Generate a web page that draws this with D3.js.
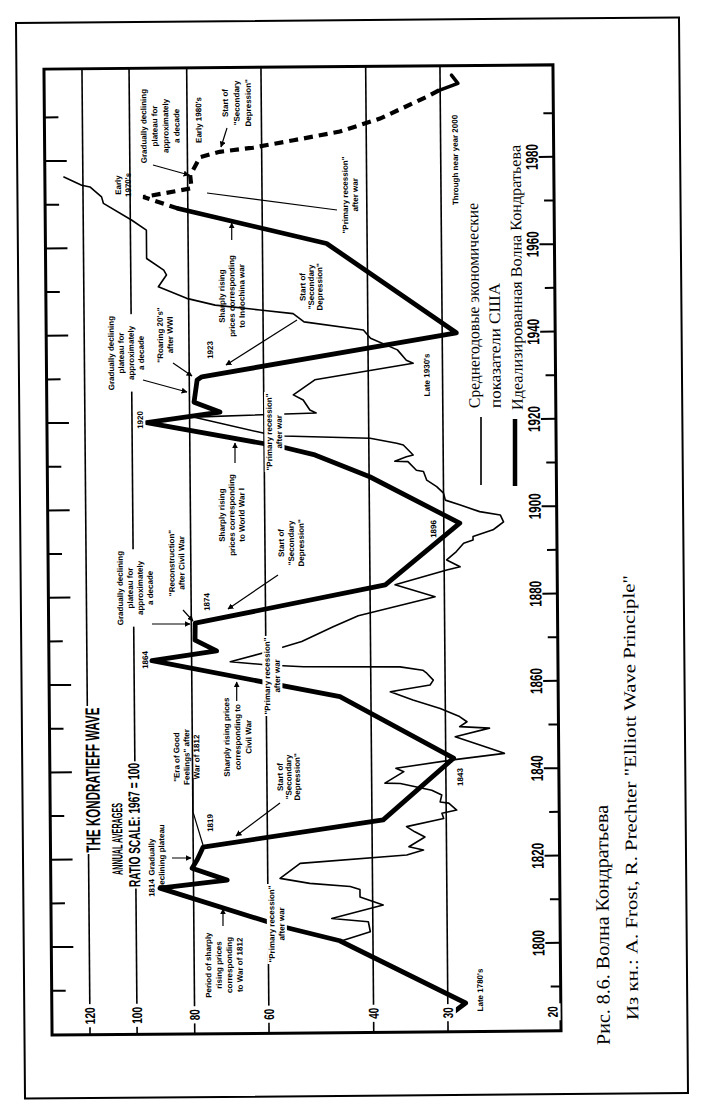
<!DOCTYPE html>
<html><head><meta charset="utf-8">
<script src="https://cdn.jsdelivr.net/npm/d3@7"></script>
<style>body{margin:0;background:#fff}</style></head>
<body><svg id="c" width="708" height="1113"></svg>
<script>
// ---------------- DATA ----------------
const priceTicks = [120, 100, 80, 60, 40, 30, 20];
const gridValues = [120, 100, 80, 60, 40, 30];
const yearLabels = [1800, 1820, 1840, 1860, 1880, 1900, 1920, 1940, 1960, 1980];
const yearTicks = [1790,1800,1810,1820,1830,1840,1850,1860,1870,1880,1890,1900,1910,1920,1930,1940,1950,1960,1970,1980,1990];

// thin line: annual averages (ratio scale, 1967 = 100)
const priceYears = [1800.8,1802.9,1805.2,1806.0,1809.0,1810.9,1812.6,1813.3,1814.1,1815.3,1818.7,1820.4,1821.5,1822.3,1824.5,1825.7,1826.9,1828.7,1829.9,1830.6,1832.2,1832.5,1834.1,1835.2,1836.8,1836.9,1839.5,1840.3,1842.1,1843.5,1844.7,1847.4,1849.3,1849.7,1850.8,1852.0,1853.9,1855.9,1857.8,1858.2,1859.3,1860.4,1862.0,1862.7,1863.5,1863.7,1864.2,1865.0,1867.2,1869.5,1872.8,1875.3,1879.5,1882.3,1885.6,1886.3,1887.9,1889.8,1891.7,1892.4,1893.2,1894.7,1895.4,1896.5,1898.1,1898.9,1900.5,1901.6,1903.2,1904.7,1906.2,1908.2,1908.5,1910.5,1910.6,1911.6,1912.0,1914.3,1914.7,1915.9,1916.6,1917.3,1921.1,1921.8,1922.5,1924.8,1926.0,1929.4,1933.0,1933.7,1936.1,1938.8,1940.7,1942.7,1944.6,1945.5,1946.7,1948.3,1951.0,1953.7,1954.8,1957.5,1964.0,1966.3,1970.2,1971.7,1974.0,1974.4,1976.4];
const priceValues = [45.4,40.4,40.7,46.9,38.4,42.0,42.0,43.6,51.0,57.2,52.9,35.0,32.8,34.7,32.6,33.9,35.0,30.3,30.5,28.8,29.7,30.7,30.5,31.7,35.8,38.0,35.3,36.4,29.2,23.9,25.3,28.9,25.3,28.4,27.6,28.4,30.6,34.0,37.1,35.7,31.8,31.4,32.2,32.7,35.7,51.9,59.6,68.9,59.6,52.2,46.2,41.9,31.1,36.3,29.7,28.2,29.7,28.6,27.8,26.8,26.8,24.8,24.4,23.8,24.1,26.1,28.2,29.8,30.0,30.8,32.0,32.4,33.3,34.4,36.2,34.6,33.7,35.0,35.9,39.8,55.7,60.2,78.9,49.0,50.2,51.5,53.5,49.2,33.6,34.5,35.7,39.6,40.7,51.2,53.4,60.7,72.2,80.6,89.9,87.1,88.0,94.0,94.0,99.4,110.9,111.7,116.8,120.6,129.4];

// thick line: idealized Kondratieff wave
const waveYears = [1784.1,1786.4,1800.9,1804.1,1813.3,1815.0,1817.8,1819.7,1822.6,1828.5,1842.5,1856.8,1865.4,1867.5,1870.0,1873.9,1882.3,1896.3,1907.1,1912.2,1914.2,1919.9,1922.2,1924.5,1929.6,1930.3,1939.9,1960.6,1968.9];
const waveValues = [29.5,28.0,45.5,56.2,91.1,70.2,80.4,78.8,77.0,38.3,29.1,45.1,93.3,72.6,78.9,78.8,37.7,28.2,39.9,49.3,56.4,94.5,71.1,78.6,77.6,76.2,28.4,46.8,83.1];

// dashed: projection (last two points form the solid "V" at the trough)
const projYears = [1968.9,1971.6,1973.5,1976.5,1980.6,1981.8,1982.7,1984.3,1986.2,1989.1,1994.0,1996.0];
const projValues = [83.1,95.0,78.8,79.2,76.2,70.6,62.0,53.0,44.3,37.9,31.6,29.6];
const troughYears = [1995.4,1997.0,1998.9];
const troughValues = [30.2,28.0,28.7];

// ---------------- SETUP ----------------
const svg = d3.select('#c');
svg.append('rect').attr('width',708).attr('height',1113).attr('fill','#fff');
const defs = svg.append('defs');
defs.append('marker').attr('id','ah').attr('viewBox','0 0 10 10').attr('refX',9).attr('refY',5)
  .attr('markerWidth',5).attr('markerHeight',5).attr('orient','auto')
  .append('path').attr('d','M0,0L10,5L0,10z').attr('fill','#000');

const g = svg.append('g').attr('transform','rotate(-0.48,300,550)');
const P = (x,y)=>[x-0.0084*(y-550), y+0.0084*(x-300)];
const SANS = "'Liberation Sans Narrow','Arial Narrow','Liberation Sans',Arial,sans-serif";
const SERIF = "'Liberation Serif','Times New Roman',serif";

const F = {l:48, r:557, t:67, b:1033};
const xv = d3.scaleLog().domain([30,120]).range([444,86]);      // value -> x
const yy = d3.scaleLinear().domain([1800,1980]).range([945,159]); // year -> y

// outer frame
const o1=P(16,23), o2=P(688,1093);
g.append('rect').attr('x',o1[0]).attr('y',o1[1]).attr('width',o2[0]-o1[0]).attr('height',o2[1]-o1[1])
 .attr('fill','none').attr('stroke','#000').attr('stroke-width',2);

// gridlines
g.selectAll('.grid').data(gridValues).join('line')
 .attr('x1',d=>xv(d)).attr('x2',d=>xv(d)).attr('y1',F.t).attr('y2',F.b)
 .attr('stroke','#000').attr('stroke-width',1.6);

// ticks right
g.selectAll('.tr').data(yearTicks).join('line')
 .attr('x1',F.r).attr('x2',d=>F.r-(d%20===0?15:10)).attr('y1',d=>yy(d)).attr('y2',d=>yy(d))
 .attr('stroke','#000').attr('stroke-width',2);
// ticks left
g.selectAll('.tl').data(yearTicks).join('line')
 .attr('x1',F.l).attr('x2',d=>F.l+(d%20===0?22:14)).attr('y1',d=>yy(d)).attr('y2',d=>yy(d))
 .attr('stroke','#000').attr('stroke-width',2);

// inner frame
g.append('rect').attr('x',F.l).attr('y',F.t).attr('width',F.r-F.l).attr('height',F.b-F.t)
 .attr('fill','none').attr('stroke','#000').attr('stroke-width',3);

// ---------------- SERIES ----------------
const line = d3.line().x(d=>xv(d[1])).y(d=>yy(d[0]));
defs.append('clipPath').attr('id','clp').append('rect').attr('x',F.l).attr('y',F.t).attr('width',F.r-F.l).attr('height',F.b-F.t);
const series = g.append('g').attr('clip-path','url(#clp)');
series.append('path').datum(d3.zip(priceYears,priceValues)).attr('d',line)
  .attr('fill','none').attr('stroke','#000').attr('stroke-width',1.6).attr('stroke-linejoin','round');
series.append('path').datum(d3.zip(waveYears,waveValues)).attr('d',line)
  .attr('fill','none').attr('stroke','#000').attr('stroke-width',4.8).attr('stroke-linejoin','round').attr('stroke-linecap','round');
series.append('path').datum(d3.zip(projYears,projValues)).attr('d',line)
  .attr('fill','none').attr('stroke','#000').attr('stroke-width',4.2).attr('stroke-dasharray','9,6');
series.append('path').datum(d3.zip(troughYears,troughValues)).attr('d',line)
  .attr('fill','none').attr('stroke','#000').attr('stroke-width',3.5).attr('stroke-linejoin','round').attr('stroke-linecap','round');

// ---------------- LABEL HELPERS ----------------
function label(px,py,lines,o={}){
  const [x,y]=P(px,py);
  const size=o.size||8, lh=o.lh||size*1.2, n=lines.length;
  const gg=g.append('g').attr('transform',`translate(${x},${y}) rotate(-90)`);
  const t=gg.append('text').attr('font-size',size).attr('font-weight',o.weight||'bold')
    .attr('font-family',o.family||SANS).attr('text-anchor',o.anchor||'middle');
  lines.forEach((s,i)=>{
    const ts=t.append('tspan').attr('x',0).attr('y',(i-(n-1)/2)*lh+size*0.36).text(s);
    if(o.len&&o.len[i]) ts.attr('textLength',o.len[i]).attr('lengthAdjust','spacingAndGlyphs');
  });
  if(o.bg){const b=t.node().getBBox();
    gg.insert('rect','text').attr('x',b.x-1.5).attr('y',b.y-0.5).attr('width',b.width+3).attr('height',b.height+1).attr('fill','#fff');}
  return gg;
}
function seg(pts,o={}){
  const p=pts.map(d=>P(d[0],d[1]));
  const path=g.append('path').attr('d',d3.line()(p)).attr('fill','none').attr('stroke','#000').attr('stroke-width',o.w||1.2);
  if(o.arrow) path.attr('marker-end','url(#ah)');
}

// axis value labels
priceTicks.forEach(v=>{
  const gg=g.append('g').attr('transform',`translate(${xv(v)},1014) rotate(-90)`);
  const t=gg.append('text').attr('font-size',14).attr('font-weight','bold').attr('font-family',SANS)
    .attr('text-anchor','middle').attr('y',5).attr('textLength',v>=100?17:11).attr('lengthAdjust','spacingAndGlyphs').text(v);
  const b=t.node().getBBox();
  gg.insert('rect','text').attr('x',b.x-3).attr('y',b.y).attr('width',b.width+6).attr('height',b.height).attr('fill','#fff');
});
// year labels
yearLabels.forEach(yr=>{
  g.append('text').attr('transform',`translate(535,${yy(yr)}) rotate(-90)`)
   .attr('font-size',17).attr('font-weight','bold').attr('font-family',SANS).attr('text-anchor','middle')
   .attr('y',6).attr('textLength',26).attr('lengthAdjust','spacingAndGlyphs').text(yr);
});

// title block
label(92.5,780,['THE KONDRATIEFF WAVE'],{size:20,len:[145],bg:true});
label(117,839,['ANNUAL AVERAGES'],{size:15,len:[72],bg:true});
label(134,825,['RATIO SCALE: 1967 = 100'],{size:16,len:[124],bg:true});

// annotations
label(480,990,["Late 1780's"]);
label(151.5,888,['1814']);
label(224,965,['Period of sharply','rising prices','corresponding','to War of 1812'],{lh:10.5});
seg([[223,926],[223,909]],{arrow:true});
label(276.5,924,['"Primary recession"','after war'],{lh:10,bg:true});
label(156.5,857,['Gradually','declining plateau'],{lh:10});
seg([[172,858],[191,858]],{arrow:true});
label(210,823,['1819']);
label(186.5,757,['"Era of Good','Feelings" after','War of 1812'],{lh:10});
seg([[193,778],[193,812],[203,845]]);
label(237.5,737,['Sharply rising prices','corresponding to','Civil War'],{lh:11});
seg([[236.7,701],[236.7,682]],{arrow:true});
label(288.5,777,['Start of','"Secondary','Depression"'],{lh:8.5});
seg([[280,803],[236,836]],{arrow:true});
label(460,777,['1843']);
label(145,660,['1864']);
label(272,676,['"Primary recession"','after war'],{lh:10,bg:true});
label(135,588,['Gradually declining','plateau for','approximately','a decade'],{lh:10,bg:true});
seg([[152,624],[190,624]],{arrow:true});
label(176.5,563,['"Reconstruction"','after Civil War'],{lh:10});
seg([[183,610],[193,621]],{arrow:true});
label(206.7,602,['1874']);
label(291,543,['Start of','"Secondary','Depression"'],{lh:10});
seg([[278,575],[228,609]],{arrow:true});
label(231.7,515,['Sharply rising','prices corresponding','to World War I'],{lh:10});
seg([[235,463],[235,443]],{arrow:true});
label(433.3,529,['1896']);
label(274,432,['"Primary recession"','after war'],{lh:10,bg:true});
label(140,420,['1920'],{bg:true});
label(126,353,['Gradually declining','plateau for','approximately','a decade'],{lh:10,bg:true});
seg([[143,380],[187,392]],{arrow:true});
label(165,335,['"Roaring 20\'s"','after WWI'],{lh:10});
seg([[173,363],[192,376]],{arrow:true});
label(210,350,['1923']);
label(426.7,375,["Late 1930's"]);
label(231.7,296,['Sharply rising','prices corresponding','to Indochina war'],{lh:10});
seg([[231.7,240],[231.7,223]],{arrow:true});
label(311,287,['Start of','"Secondary','Depression"'],{lh:8.5});
seg([[297,320],[226,365]],{arrow:true});
label(350,195,['"Primary recession"','after war'],{lh:10});
seg([[337,210],[207,193]]);
label(123,185,['Early',"1970's"],{lh:10});
label(160,126,['Gradually declining','plateau for','approximately','a decade'],{lh:11});
seg([[153,165],[189,175]],{arrow:true});
label(198.5,120,["Early 1980's"]);
label(236.5,103,['Start of','"Secondary','Depression"'],{lh:11.5});
seg([[227,128],[221,147]],{arrow:true});
label(455,160,['Through near year 2000']);

// legend
seg([[481,417],[481,485]],{w:1.6});
seg([[515,419],[515,486]],{w:4.5});
label(474,408,['Среднегодовые экономические'],{size:16,weight:'normal',family:SERIF,anchor:'start',len:[205]});
label(495,408,['показатели США'],{size:16,weight:'normal',family:SERIF,anchor:'start',len:[125]});
label(517,410,['Идеализированная Волна Кондратьева'],{size:16,weight:'normal',family:SERIF,anchor:'start',len:[265]});

// captions
label(603,1045,['Рис. 8.6. Волна Кондратьева'],{size:19,weight:'normal',family:SERIF,anchor:'start',len:[240]});
label(632,1020,['Из кн.: A. Frost, R. Prechter "Elliott Wave Principle"'],{size:17,weight:'normal',family:SERIF,anchor:'start',len:[445]});
</script></body></html>
